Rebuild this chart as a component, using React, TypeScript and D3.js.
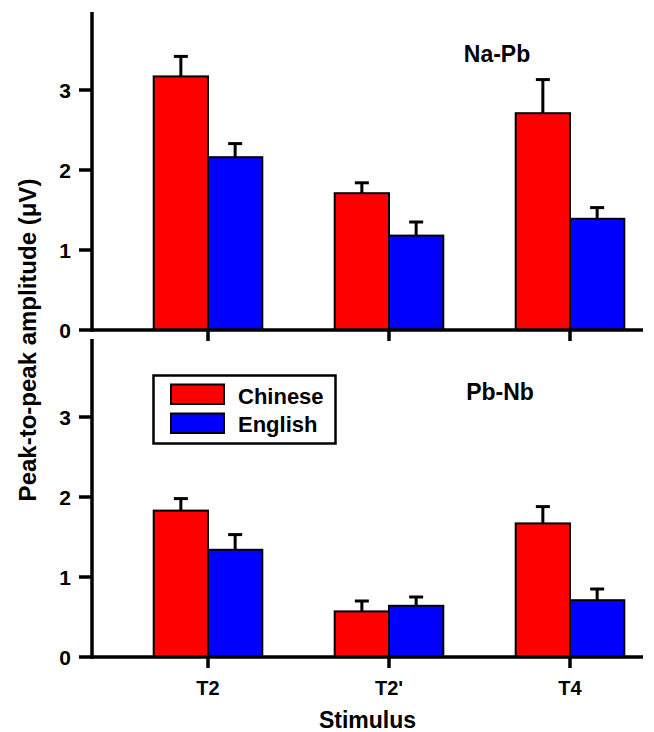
import React, { useEffect, useRef } from "react";
import { select, scaleLinear, scaleBand } from "d3";

const stimuli = ["T2", "T2'", "T4"];
const groups = ["Chinese", "English"];
const colors = ["#ff0000", "#0000ff"];

// Na-Pb (top panel)
const naPbChinese = [3.17, 1.71, 2.71];
const naPbChineseErr = [0.25, 0.13, 0.42];
const naPbEnglish = [2.16, 1.18, 1.39];
const naPbEnglishErr = [0.17, 0.17, 0.14];

// Pb-Nb (bottom panel)
const pbNbChinese = [1.83, 0.57, 1.67];
const pbNbChineseErr = [0.15, 0.13, 0.21];
const pbNbEnglish = [1.34, 0.64, 0.71];
const pbNbEnglishErr = [0.19, 0.11, 0.14];

const yTicks = [0, 1, 2, 3];
const yMax = 3.975;

const font = "'Liberation Sans', Arial, Helvetica, sans-serif";

const panels = [
  { label: "Na-Pb", means: [naPbChinese, naPbEnglish], errs: [naPbChineseErr, naPbEnglishErr], zeroY: 330, labelX: 497, labelY: 62 },
  { label: "Pb-Nb", means: [pbNbChinese, pbNbEnglish], errs: [pbNbChineseErr, pbNbEnglishErr], zeroY: 657, labelX: 500, labelY: 400 },
];

export default function App() {
  const svgRef = useRef<SVGSVGElement>(null);

  useEffect(() => {
    const svg = select(svgRef.current);
    svg.selectAll("*").remove();

    const axisLeft = 92;
    const axisRight = 643;

    const x = scaleBand().domain(stimuli).range([117.5, 660.5]).paddingInner(0.4).paddingOuter(0.2);
    const sub = scaleBand().domain(groups).range([0, x.bandwidth()]);

    panels.forEach((p, pi) => {
      const y = scaleLinear().domain([0, yMax]).range([p.zeroY, p.zeroY - 318]);
      const g = svg.append("g");

      // bars + error bars
      groups.forEach((grp, gi) => {
        stimuli.forEach((s, si) => {
          const v = p.means[gi][si];
          const e = p.errs[gi][si];
          const bx = (x(s) as number) + (sub(grp) as number);
          const cx = bx + sub.bandwidth() / 2;
          g.append("line")
            .attr("x1", cx).attr("x2", cx)
            .attr("y1", y(v)).attr("y2", y(v + e))
            .attr("stroke", "#000").attr("stroke-width", 3);
          g.append("line")
            .attr("x1", cx - 7).attr("x2", cx + 7)
            .attr("y1", y(v + e)).attr("y2", y(v + e))
            .attr("stroke", "#000").attr("stroke-width", 3);
          g.append("rect")
            .attr("x", bx)
            .attr("y", y(v))
            .attr("width", sub.bandwidth())
            .attr("height", y(0) - y(v))
            .attr("fill", colors[gi])
            .attr("stroke", "#000")
            .attr("stroke-width", 2);
        });
      });

      // y axis
      g.append("line")
        .attr("x1", axisLeft).attr("x2", axisLeft)
        .attr("y1", y(yMax)).attr("y2", y(0) + 1.75)
        .attr("stroke", "#000").attr("stroke-width", 3.5);
      yTicks.forEach((t) => {
        g.append("line")
          .attr("x1", 79).attr("x2", axisLeft)
          .attr("y1", y(t)).attr("y2", y(t))
          .attr("stroke", "#000").attr("stroke-width", 3.5);
        g.append("text")
          .attr("x", 71)
          .attr("y", y(t))
          .attr("dy", "0.36em")
          .attr("text-anchor", "end")
          .attr("font-family", font)
          .attr("font-weight", "bold")
          .attr("font-size", 21)
          .text(t);
      });

      // x axis
      g.append("line")
        .attr("x1", axisLeft).attr("x2", axisRight)
        .attr("y1", y(0)).attr("y2", y(0))
        .attr("stroke", "#000").attr("stroke-width", 3.5);
      stimuli.forEach((s) => {
        const cx = (x(s) as number) + x.bandwidth() / 2;
        g.append("line")
          .attr("x1", cx).attr("x2", cx)
          .attr("y1", y(0)).attr("y2", y(0) + 11)
          .attr("stroke", "#000").attr("stroke-width", 3.5);
        if (pi === panels.length - 1) {
          g.append("text")
            .attr("x", cx)
            .attr("y", 695)
            .attr("text-anchor", "middle")
            .attr("font-family", font)
            .attr("font-weight", "bold")
            .attr("font-size", 20)
            .text(s);
        }
      });

      g.append("text")
        .attr("x", p.labelX)
        .attr("y", p.labelY)
        .attr("text-anchor", "middle")
        .attr("font-family", font)
        .attr("font-weight", "bold")
        .attr("font-size", 23)
        .text(p.label);
    });

    // legend
    const lg = svg.append("g");
    lg.append("rect")
      .attr("x", 153.5).attr("y", 375.5)
      .attr("width", 182).attr("height", 68)
      .attr("fill", "#fff").attr("stroke", "#000").attr("stroke-width", 2.5);
    groups.forEach((grp, gi) => {
      lg.append("rect")
        .attr("x", 171).attr("y", 384.5 + gi * 29)
        .attr("width", 53).attr("height", 19.5)
        .attr("fill", colors[gi]).attr("stroke", "#000").attr("stroke-width", 2);
      lg.append("text")
        .attr("x", 238).attr("y", 404 + gi * 28)
        .attr("font-family", font)
        .attr("font-weight", "bold")
        .attr("font-size", 22)
        .text(grp);
    });

    // axis titles
    svg.append("text")
      .attr("x", 367.5).attr("y", 728)
      .attr("text-anchor", "middle")
      .attr("font-family", font)
      .attr("font-weight", "bold")
      .attr("font-size", 23)
      .text("Stimulus");
    svg.append("text")
      .attr("transform", "translate(36,340) rotate(-90)")
      .attr("text-anchor", "middle")
      .attr("font-family", font)
      .attr("font-weight", "bold")
      .attr("font-size", 24)
      .text("Peak-to-peak amplitude (\u03bcV)");
  }, []);

  return (
    <svg
      ref={svgRef}
      width={654}
      height={732}
      style={{ position: "absolute", left: 0, top: 0, background: "#fff" }}
    />
  );
}
